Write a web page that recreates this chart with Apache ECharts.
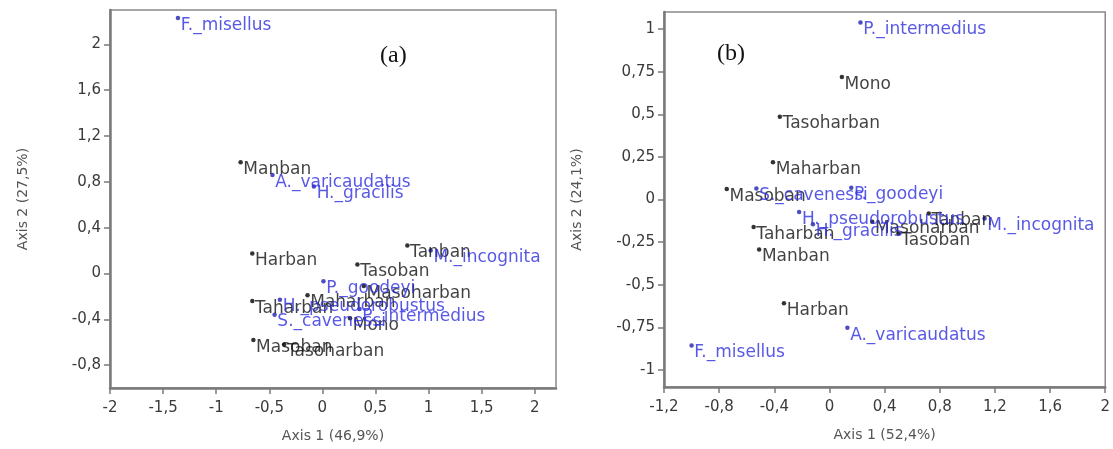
<!DOCTYPE html>
<html>
<head>
<meta charset="utf-8">
<script src="https://cdn.jsdelivr.net/npm/echarts@6/dist/echarts.min.js"></script>
<style>
html,body{margin:0;padding:0;background:#fff;}
#chart{width:1113px;height:449px;}
</style>
</head>
<body>
<div id="chart"></div>
<script>
// ---- data ----
const siteNames = ['Manban','Harban','Tanban','Tasoban','Masoharban','Maharban','Taharban','Masoban','Tasoharban','Mono'];
const speciesNames = ['F._misellus','A._varicaudatus','H._gracilis','M._incognita','P._goodeyi','H._pseudorobustus','S._cavenessi','P._intermedius'];

// panel (a)
const sitesAx = [-0.77, -0.66, 0.80, 0.33, 0.39, -0.14, -0.66, -0.65, -0.36, 0.26];
const sitesAy = [0.97, 0.175, 0.244, 0.079, -0.11, -0.19, -0.24, -0.58, -0.62, -0.39];
const speciesAx = [-1.36, -0.47, -0.08, 1.02, 0.01, -0.40, -0.45, 0.35];
const speciesAy = [2.23, 0.86, 0.76, 0.20, -0.067, -0.23, -0.36, -0.31];

// panel (b)
const sitesBx = [-0.51, -0.33, 0.72, 0.50, 0.31, -0.41, -0.55, -0.745, -0.36, 0.09];
const sitesBy = [-0.294, -0.608, -0.082, -0.20, -0.13, 0.218, -0.161, 0.061, 0.486, 0.718];
const speciesBx = [-1.0, 0.13, -0.12, 1.125, 0.158, -0.22, -0.53, 0.225];
const speciesBy = [-0.857, -0.753, -0.145, -0.112, 0.069, -0.073, 0.065, 1.039];

// axis ticks
const xTicksA = [-2, -1.5, -1, -0.5, 0, 0.5, 1, 1.5, 2];
const yTicksA = [-0.8, -0.4, 0, 0.4, 0.8, 1.2, 1.6, 2];
const xTicksB = [-1.2, -0.8, -0.4, 0, 0.4, 0.8, 1.2, 1.6, 2];
const yTicksB = [-1, -0.75, -0.5, -0.25, 0, 0.25, 0.5, 0.75, 1];

const xNameA = 'Axis 1 (46,9%)';
const yNameA = 'Axis 2 (27,5%)';
const xNameB = 'Axis 1 (52,4%)';
const yNameB = 'Axis 2 (24,1%)';

// ---- helpers ----
const FONT = 'DejaVu Sans';
function pts(names, xs, ys) {
  return names.map((n, i) => ({ name: n, value: [xs[i], ys[i]] }));
}
function fmt(v) {
  return String(Math.round(v * 1000) / 1000).replace('.', ',');
}
function xAxisCfg(idx, min, max, ticks, name) {
  return {
    type: 'value', gridIndex: idx, min: min, max: max,
    name: name, nameLocation: 'middle', nameGap: 41,
    nameTextStyle: { fontFamily: FONT, fontSize: 14, color: '#555' },
    axisLine: { show: true, onZero: false, lineStyle: { color: '#7a7a7a', width: 2.5 } },
    axisTick: { show: true, inside: false, length: 6, customValues: ticks, lineStyle: { color: '#7a7a7a', width: 1.5 } },
    axisLabel: { customValues: ticks, margin: 13, fontFamily: FONT, fontSize: 15, color: '#3a3a3a', formatter: fmt },
    splitLine: { show: false }
  };
}
function yAxisCfg(idx, min, max, ticks, name) {
  return {
    type: 'value', gridIndex: idx, min: min, max: max,
    name: name, nameLocation: 'middle', nameGap: 80,
    nameTextStyle: { fontFamily: FONT, fontSize: 14, color: '#555' },
    axisLine: { show: true, onZero: false, lineStyle: { color: '#7a7a7a', width: 2.5 } },
    axisTick: { show: true, inside: false, length: 6, customValues: ticks, lineStyle: { color: '#7a7a7a', width: 1.5 } },
    axisLabel: { customValues: ticks, margin: 9, fontFamily: FONT, fontSize: 15, color: '#3a3a3a', formatter: fmt },
    splitLine: { show: false }
  };
}
function scatter(idx, data, dotColor, textColor) {
  return {
    type: 'scatter', xAxisIndex: idx, yAxisIndex: idx,
    data: data, symbol: 'circle', symbolSize: 4.5,
    itemStyle: { color: dotColor },
    label: {
      show: true, position: [5, 1], align: 'left', verticalAlign: 'top',
      formatter: '{b}', fontFamily: FONT, fontSize: 17, color: textColor
    },
    labelLayout: { hideOverlap: false },
    emphasis: { disabled: true },
    silent: true
  };
}

const chart = echarts.init(document.getElementById('chart'), null, { renderer: 'canvas' });
chart.setOption({
  backgroundColor: '#ffffff',
  animation: false,
  title: [
    { text: '(a)', left: 375, top: 39, textStyle: { fontFamily: 'Liberation Serif', fontSize: 24, fontWeight: 'normal', color: '#111' } },
    { text: '(b)', left: 712, top: 37, textStyle: { fontFamily: 'Liberation Serif', fontSize: 24, fontWeight: 'normal', color: '#111' } }
  ],
  grid: [
    { left: 110, top: 10, width: 446, height: 378, show: true, borderColor: '#8a8a8a', borderWidth: 1.5, backgroundColor: 'transparent' },
    { left: 664, top: 12, width: 445, height: 375, show: true, borderColor: '#8a8a8a', borderWidth: 1.5, backgroundColor: 'transparent' }
  ],
  xAxis: [
    xAxisCfg(0, -2, 2.2, xTicksA, xNameA),
    xAxisCfg(1, -1.2, 2, xTicksB, xNameB)
  ],
  yAxis: [
    yAxisCfg(0, -1, 2.3, yTicksA, yNameA),
    yAxisCfg(1, -1.1, 1.1, yTicksB, yNameB)
  ],
  series: [
    scatter(0, pts(siteNames, sitesAx, sitesAy), '#000000', '#111111'),
    scatter(0, pts(speciesNames, speciesAx, speciesAy), '#2020b0', '#2e2ee0'),
    scatter(1, pts(siteNames, sitesBx, sitesBy), '#000000', '#111111'),
    scatter(1, pts(speciesNames, speciesBx, speciesBy), '#2020b0', '#2e2ee0')
  ]
});
</script>
</body>
</html>
